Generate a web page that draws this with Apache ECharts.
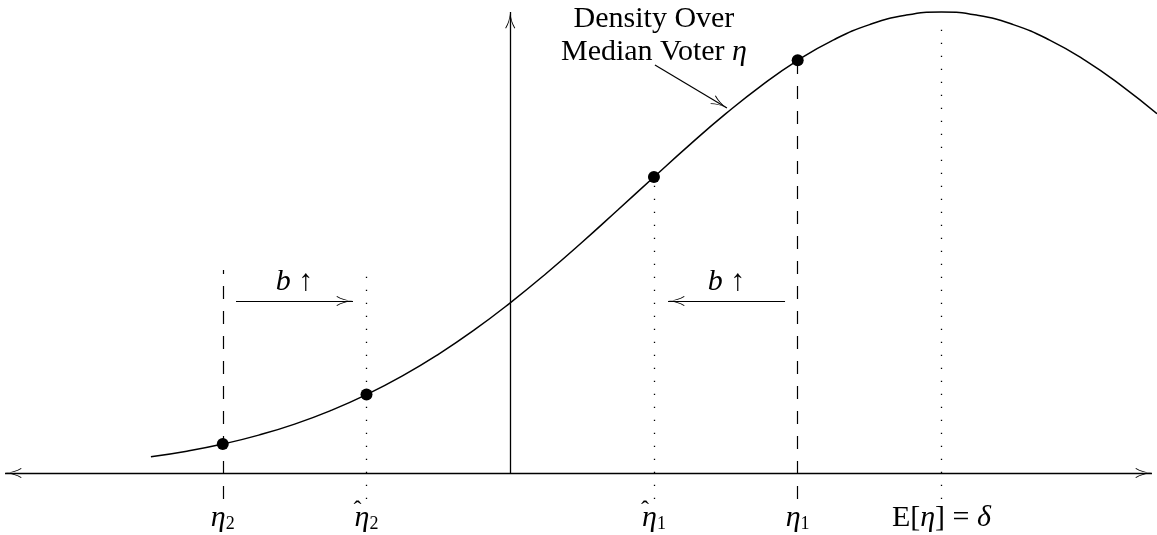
<!DOCTYPE html>
<html><head><meta charset="utf-8">
<script src="https://cdn.jsdelivr.net/npm/echarts@6/dist/echarts.min.js"></script>
<style>html,body{margin:0;padding:0;background:#fff}#c{width:1157px;height:535px}</style>
</head><body><div id="c"></div>
<script>
// Density curve over the median voter eta (x in units of the tick spacing, vertical axis at 0)
const curveX = [-2.5,-2.25,-2,-1.75,-1.5,-1.25,-1,-0.75,-0.5,-0.25,0,0.25,0.5,0.75,1,1.25,1.5,1.75,2,2.25,2.5,2.75,3,3.25,3.5,3.75,4,4.25,4.5];
const curveY = [0.162,0.218,0.289,0.379,0.489,0.624,0.784,0.971,1.187,1.431,1.702,1.995,2.307,2.632,2.960,3.284,3.593,3.877,4.127,4.332,4.484,4.578,4.61,4.578,4.484,4.332,4.127,3.877,3.593];
// Marked points on the curve
const pointX = [-2, -1, 1, 2];
const pointY = [0.289, 0.784, 2.960, 4.127];
// Guide lines and their tick labels
const guideX = [-2, -1, 1, 2, 3];
const guideTop = [2.03, 2.03, 2.95, 4.13, 4.49];
const guideBottom = -0.26;
const guideKind = ['actual', 'shifted', 'shifted', 'actual', 'mean'];
const guideLabels = ['{i|η}{s|2}', '{i|η}{s|2}', '{i|η}{s|1}', '{i|η}{s|1}', '{r|E[}{i|η}{r|] = }{i|δ}'];
// Axes
const xAxisEnds = [-3.515, 4.465];
const yAxisTop = 4.61;
// Shift arrows "b ↑"
const shiftFrom = [-1.908, 1.912];
const shiftTo = [-1.094, 1.098];
const shiftY = [1.72, 1.72];
const shiftLabel = ['{i|b} ↑', '{i|b} ↑'];
// Annotation
const noteLines = ['Density Over', 'Median Voter {i|η}'];
const notePos = [1.0, 4.37];
const noteArrowFrom = [1.007, 4.08];
const noteArrowTo = [1.508, 3.65];

const FONT = 'Liberation Serif';
const arrowPath = 'path://M0,-16.5L0.01,-16.5L0,-16.49Z M0,0 Q0.8,9 5,16 L4.2,16.5 Q0.3,10 0,2 Q-0.3,10 -4.2,16.5 L-5,16 Q-0.8,9 0,0Z';
const arrowSize = [10, 33];
const rich = {
  i: {fontFamily: FONT, fontStyle: 'italic', fontSize: 30, color: '#000'},
  r: {fontFamily: FONT, fontSize: 30, color: '#000'},
  s: {fontFamily: FONT, fontSize: 18, color: '#000', verticalAlign: 'bottom', padding: [12, 0, 0, 0]}
};
const kindStyle = {
  actual: {type: [13, 12], width: 1.2},
  shifted: {type: [1.3, 11.7], width: 1.3},
  mean: {type: [1.3, 11.7], width: 1.3}
};

const guideLines = guideX.map((x, i) => [
  {coord: [x, guideBottom], symbol: 'none',
   lineStyle: Object.assign({color: '#000'}, kindStyle[guideKind[i]]),
   label: {show: true, position: 'start', distance: 4, formatter: guideLabels[i], rich: rich,
           fontFamily: FONT, fontSize: 30, color: '#000'}},
  {coord: [x, guideTop[i]], symbol: 'none'}
]);
// hats over the shifted (estimated) cut-offs
const hatMarks = guideX.map((x, i) => ({x, kind: guideKind[i]}))
  .filter(d => d.kind === 'shifted')
  .map(d => ({coord: [d.x, guideBottom], label: {show: true, position: 'inside', offset: [-9, 12],
      formatter: 'ˆ', fontFamily: FONT, fontSize: 24, color: '#000'}}));

const arrowLines = [
  [{coord: [xAxisEnds[0], 0], symbol: arrowPath, symbolSize: arrowSize, lineStyle: {color: '#000', width: 1.3, type: 'solid'}},
   {coord: [xAxisEnds[1], 0], symbol: arrowPath, symbolSize: arrowSize}],
  [{coord: [0, 0], symbol: 'none', lineStyle: {color: '#000', width: 1.3, type: 'solid'}},
   {coord: [0, yAxisTop], symbol: arrowPath, symbolSize: arrowSize}],
  [{coord: noteArrowFrom, symbol: 'none', lineStyle: {color: '#000', width: 1.2, type: 'solid'}},
   {coord: noteArrowTo, symbol: arrowPath, symbolSize: arrowSize}]
];
shiftFrom.forEach((x, i) => {
  arrowLines.push([
    {coord: [x, shiftY[i]], symbol: 'none', lineStyle: {color: '#000', width: 1.2, type: 'solid'},
     label: {show: true, position: 'middle', distance: 4, formatter: shiftLabel[i], rich: rich,
             fontFamily: FONT, fontSize: 30, color: '#000'}},
    {coord: [shiftTo[i], shiftY[i]], symbol: arrowPath, symbolSize: arrowSize}
  ]);
});

const chart = echarts.init(document.getElementById('c'), null, {renderer: 'canvas'});
chart.setOption({
  animation: false,
  backgroundColor: '#fff',
  grid: {left: 0, right: 0, top: 0, bottom: 0},
  xAxis: {type: 'value', min: -3.55, max: 4.5, show: false},
  yAxis: {type: 'value', min: -0.62, max: 4.73, show: false},
  series: [
    {
      type: 'line', z: 1, clip: false, silent: true,
      data: [], showSymbol: false,
      markLine: {silent: true, animation: false, symbol: 'none', label: {show: false},
                 emphasis: {disabled: true}, data: guideLines.concat(arrowLines)},
      markPoint: {silent: true, animation: false, symbolSize: 0.1, itemStyle: {color: 'rgba(0,0,0,0)'},
                  data: [{coord: notePos, label: {show: true, position: 'inside', formatter: noteLines.join('\n'),
                          fontFamily: FONT, fontSize: 30, lineHeight: 33, color: '#000', rich: {
                            i: {fontFamily: FONT, fontStyle: 'italic', fontSize: 30, lineHeight: 33, color: '#000'}}}}]
                        .concat(hatMarks)}
    },
    {
      type: 'line', z: 2, clip: false, silent: true, smooth: true, showSymbol: false,
      lineStyle: {color: '#000', width: 1.5},
      data: curveX.map((x, i) => [x, curveY[i]])
    },
    {
      type: 'scatter', z: 3, clip: false, silent: true, symbolSize: 12,
      itemStyle: {color: '#000', opacity: 1},
      data: pointX.map((x, i) => [x, pointY[i]])
    }
  ]
});
</script></body></html>
